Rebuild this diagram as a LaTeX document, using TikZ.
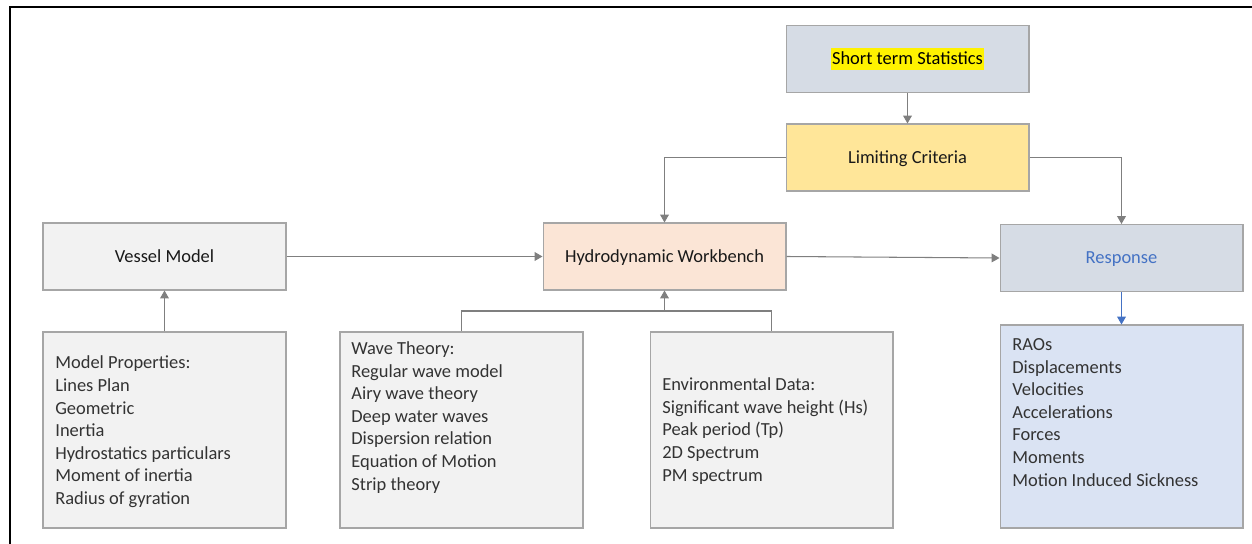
\documentclass[tikz,border=0pt]{standalone}
\usepackage{fontspec}
\setmainfont{Carlito}
\usepackage{xcolor}
\usetikzlibrary{positioning,arrows.meta,calc}
\definecolor{boxgray}{HTML}{F2F2F2}
\definecolor{bluegray}{HTML}{D6DCE5}
\definecolor{gold}{HTML}{FFE699}
\definecolor{peach}{HTML}{FBE5D6}
\definecolor{paleblue}{HTML}{DAE3F3}
\definecolor{edgegray}{HTML}{A6A6A6}
\definecolor{linegray}{HTML}{7F7F7F}
\definecolor{accent}{HTML}{4472C4}
\begin{document}
\begin{tikzpicture}[x=0.02cm, y=-0.02cm, font=\fontsize{10.5}{12.86}\selectfont,
  >={Triangle[length=4.5pt, width=5pt]},
  block/.style={draw=edgegray, line width=0.6pt, minimum width=4.86cm, minimum height=1.34cm, inner sep=0pt, text height=8.8pt, text depth=2pt, text=black!90},
  listbox/.style={draw=edgegray, line width=0.6pt, minimum width=4.86cm, inner sep=0pt},
  listtext/.style={anchor=base west, align=left, inner sep=0pt, text=black!80},
  link/.style={draw=linegray, line width=0.6pt, ->}]
\useasboundingbox (0,0) rectangle (1252,544);
\draw[line width=0.9pt] (10,544) -- (10,7) -- (1252,7);

\node[block, fill=bluegray] (stats) at (907.5,59) {};
\node[fill=yellow, inner xsep=0.5pt, inner ysep=0pt, text height=9.7pt, text depth=2.9pt] (statstext) at (stats) {Short term Statistics};
\node[block, fill=gold] (limit) at (907.5,157.5) {Limiting Criteria};
\node[block, fill=boxgray] (vessel) at (164.5,256.5) {Vessel Model};
\node[block, fill=peach] (hydro) at (664.5,256.5) {Hydrodynamic Workbench};
\node[block, fill=bluegray, text=accent] (resp) at (1121.5,258) {Response};

\node[listbox, fill=boxgray, minimum height=3.92cm] (props) at (164.5,430) {};
\node[listbox, fill=boxgray, minimum height=3.92cm] (wave) at (461.5,430) {};
\node[listbox, fill=boxgray, minimum height=3.92cm] (env) at (771.5,430) {};
\node[listbox, fill=paleblue, minimum height=4.06cm] (out) at (1121.5,426.5) {};

\node[listtext] (propstext) at (55,504.5) {Model Properties:\\Lines Plan\\Geometric\\Inertia\\Hydrostatics particulars\\Moment of inertia\\Radius of gyration};
\node[listtext] (wavetext) at (351,490) {Wave Theory:\\Regular wave model\\Airy wave theory\\Deep water waves\\Dispersion relation\\Equation of Motion\\Strip theory};
\node[listtext] (envtext) at (662,481) {Environmental Data:\\Significant wave height (Hs)\\Peak period (Tp)\\2D Spectrum\\PM spectrum};
\node[listtext] (outtext) at (1012,486) {RAOs\\Displacements\\Velocities\\Accelerations\\Forces\\Moments\\Motion Induced Sickness};

\draw[link] (stats) -- (limit);
\draw[link] (limit.west) -| (hydro.north);
\draw[link] (limit.east) -| (resp.north);
\draw[link] (vessel) -- (hydro);
\draw[link] (hydro.east) -- (resp.west);
\draw[link] (props) -- (vessel);
\coordinate (join) at (664.5,311);
\draw[draw=linegray, line width=0.6pt] (wave.north) |- (join) -| (env.north);
\draw[link] (join) -- (hydro);
\draw[link, draw=accent] (resp) -- (out);
\end{tikzpicture}
\end{document}
